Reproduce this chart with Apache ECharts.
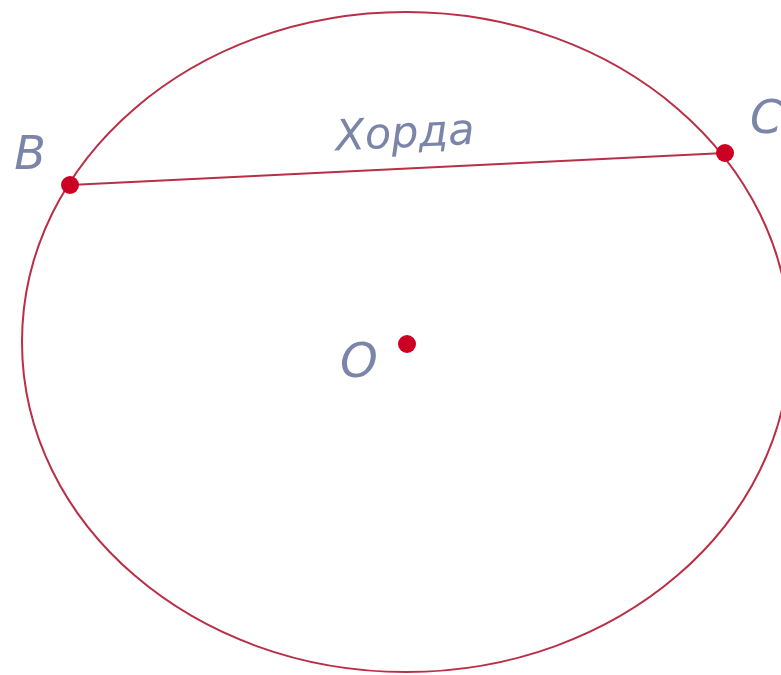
<!DOCTYPE html>
<html>
<head>
<meta charset="utf-8">
<script src="https://cdn.jsdelivr.net/npm/echarts@6/dist/echarts.min.js"></script>
<style>html,body{margin:0;padding:0;background:#fff}#c{width:781px;height:675px}</style>
</head>
<body>
<div id="c"></div>
<script>
// Ellipse (circle drawn in perspective): center and radii
const ellipseCenter = [406, 342];
const ellipseRadii = [384, 330];
// Points B, C (chord ends) and O (center)
const pointNames = ['B', 'C', 'O'];
const pointX = [70, 725, 407];
const pointY = [185, 153, 344];
// Chord endpoints (indices into the point arrays)
const chordEnds = [0, 1];
// Text labels
const labelTexts = ['B', 'C', 'O', 'Хорда'];
const labelX = [30, 766, 359, 405];
const labelY = [157, 121, 365, 136];
const labelRotate = [0, 0, 0, 2.8];
const labelSizes = [46, 46, 48, 43];

const lineColor = '#b92f46';
const dotColor = '#cc0022';
const textColor = '#5a6594';

const chart = echarts.init(document.getElementById('c'));
chart.setOption({
  animation: false,
  grid: { left: 0, right: 0, top: 0, bottom: 0 },
  xAxis: { type: 'value', min: 0, max: 781, show: false },
  yAxis: { type: 'value', min: 0, max: 675, inverse: true, show: false },
  series: [
    {
      type: 'custom',
      data: [[ellipseCenter[0], ellipseCenter[1], ellipseRadii[0], ellipseRadii[1]]],
      renderItem: function (params, api) {
        const c = api.coord([api.value(0), api.value(1)]);
        const s = api.size([api.value(2), api.value(3)]);
        return {
          type: 'ellipse',
          shape: { cx: c[0], cy: c[1], rx: s[0], ry: s[1] },
          style: { fill: 'none', stroke: lineColor, lineWidth: 2 }
        };
      },
      z: 1
    },
    {
      type: 'line',
      data: chordEnds.map(i => [pointX[i], pointY[i]]),
      symbol: 'none',
      lineStyle: { color: lineColor, width: 2 },
      z: 2
    },
    {
      type: 'scatter',
      data: pointNames.map((n, i) => [pointX[i], pointY[i]]),
      symbolSize: 18,
      itemStyle: { color: dotColor, opacity: 1 },
      z: 3
    },
    {
      type: 'scatter',
      symbolSize: 0,
      data: labelTexts.map((t, i) => ({
        value: [labelX[i], labelY[i]],
        label: {
          show: true,
          formatter: t,
          position: 'inside',
          rotate: labelRotate[i],
          fontSize: labelSizes[i],
          fontStyle: 'italic',
          fontWeight: 'normal',
          fontFamily: 'DejaVu Sans, sans-serif',
          color: textColor,
          align: 'center',
          verticalAlign: 'middle'
        }
      })),
      z: 4
    }
  ]
});
</script>
</body>
</html>
